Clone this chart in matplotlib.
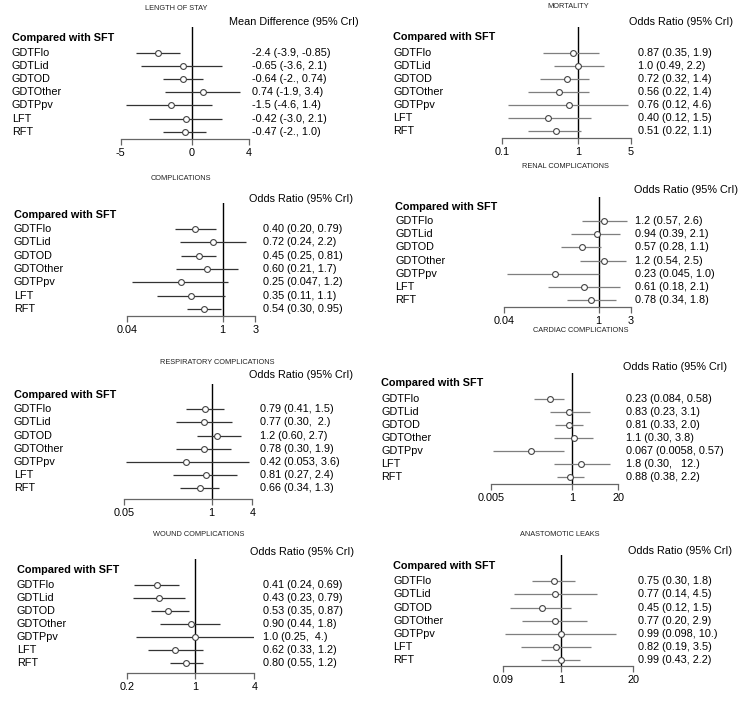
import matplotlib
matplotlib.use("Agg")
import matplotlib.pyplot as plt
import numpy as np

plt.rcParams['font.family'] = ['Liberation Sans', 'DejaVu Sans']

# ---------------- data ----------------
treatments = ["GDTFlo", "GDTLid", "GDTOD", "GDTOther", "GDTPpv", "LFT", "RFT"]

los_est = [-2.4, -0.65, -0.64, 0.74, -1.5, -0.42, -0.47]
los_lo = [-3.9, -3.6, -2.0, -1.9, -4.6, -3.0, -2.0]
los_hi = [-0.85, 2.1, 0.74, 3.4, 1.4, 2.1, 1.0]
los_txt = ["-2.4 (-3.9, -0.85)", "-0.65 (-3.6, 2.1)", "-0.64 (-2., 0.74)", "0.74 (-1.9, 3.4)",
           "-1.5 (-4.6, 1.4)", "-0.42 (-3.0, 2.1)", "-0.47 (-2., 1.0)"]
los_ticks = [-5, 0, 4]
los_ticklabels = ["-5", "0", "4"]

mort_est = [0.87, 1.0, 0.72, 0.56, 0.76, 0.40, 0.51]
mort_lo = [0.35, 0.49, 0.32, 0.22, 0.12, 0.12, 0.22]
mort_hi = [1.9, 2.2, 1.4, 1.4, 4.6, 1.5, 1.1]
mort_txt = ["0.87 (0.35, 1.9)", "1.0 (0.49, 2.2)", "0.72 (0.32, 1.4)", "0.56 (0.22, 1.4)",
            "0.76 (0.12, 4.6)", "0.40 (0.12, 1.5)", "0.51 (0.22, 1.1)"]
mort_ticks = [0.1, 1, 5]
mort_ticklabels = ["0.1", "1", "5"]

comp_est = [0.40, 0.72, 0.45, 0.60, 0.25, 0.35, 0.54]
comp_lo = [0.20, 0.24, 0.25, 0.21, 0.047, 0.11, 0.30]
comp_hi = [0.79, 2.2, 0.81, 1.7, 1.2, 1.1, 0.95]
comp_txt = ["0.40 (0.20, 0.79)", "0.72 (0.24, 2.2)", "0.45 (0.25, 0.81)", "0.60 (0.21, 1.7)",
            "0.25 (0.047, 1.2)", "0.35 (0.11, 1.1)", "0.54 (0.30, 0.95)"]
comp_ticks = [0.04, 1, 3]
comp_ticklabels = ["0.04", "1", "3"]

renal_est = [1.2, 0.94, 0.57, 1.2, 0.23, 0.61, 0.78]
renal_lo = [0.57, 0.39, 0.28, 0.54, 0.045, 0.18, 0.34]
renal_hi = [2.6, 2.1, 1.1, 2.5, 1.0, 2.1, 1.8]
renal_txt = ["1.2 (0.57, 2.6)", "0.94 (0.39, 2.1)", "0.57 (0.28, 1.1)", "1.2 (0.54, 2.5)",
             "0.23 (0.045, 1.0)", "0.61 (0.18, 2.1)", "0.78 (0.34, 1.8)"]
renal_ticks = [0.04, 1, 3]
renal_ticklabels = ["0.04", "1", "3"]

resp_est = [0.79, 0.77, 1.2, 0.78, 0.42, 0.81, 0.66]
resp_lo = [0.41, 0.30, 0.60, 0.30, 0.053, 0.27, 0.34]
resp_hi = [1.5, 2.0, 2.7, 1.9, 3.6, 2.4, 1.3]
resp_txt = ["0.79 (0.41, 1.5)", "0.77 (0.30,  2.)", "1.2 (0.60, 2.7)", "0.78 (0.30, 1.9)",
            "0.42 (0.053, 3.6)", "0.81 (0.27, 2.4)", "0.66 (0.34, 1.3)"]
resp_ticks = [0.05, 1, 4]
resp_ticklabels = ["0.05", "1", "4"]

card_est = [0.23, 0.83, 0.81, 1.1, 0.067, 1.8, 0.88]
card_lo = [0.084, 0.23, 0.33, 0.30, 0.0058, 0.30, 0.38]
card_hi = [0.58, 3.1, 2.0, 3.8, 0.57, 12.0, 2.2]
card_txt = ["0.23 (0.084, 0.58)", "0.83 (0.23, 3.1)", "0.81 (0.33, 2.0)", "1.1 (0.30, 3.8)",
            "0.067 (0.0058, 0.57)", "1.8 (0.30,   12.)", "0.88 (0.38, 2.2)"]
card_ticks = [0.005, 1, 20]
card_ticklabels = ["0.005", "1", "20"]

wound_est = [0.41, 0.43, 0.53, 0.90, 1.0, 0.62, 0.80]
wound_lo = [0.24, 0.23, 0.35, 0.44, 0.25, 0.33, 0.55]
wound_hi = [0.69, 0.79, 0.87, 1.8, 4.0, 1.2, 1.2]
wound_txt = ["0.41 (0.24, 0.69)", "0.43 (0.23, 0.79)", "0.53 (0.35, 0.87)", "0.90 (0.44, 1.8)",
             "1.0 (0.25,  4.)", "0.62 (0.33, 1.2)", "0.80 (0.55, 1.2)"]
wound_ticks = [0.2, 1, 4]
wound_ticklabels = ["0.2", "1", "4"]

anas_est = [0.75, 0.77, 0.45, 0.77, 0.99, 0.82, 0.99]
anas_lo = [0.30, 0.14, 0.12, 0.20, 0.098, 0.19, 0.43]
anas_hi = [1.8, 4.5, 1.5, 2.9, 10.0, 3.5, 2.2]
anas_txt = ["0.75 (0.30, 1.8)", "0.77 (0.14, 4.5)", "0.45 (0.12, 1.5)", "0.77 (0.20, 2.9)",
            "0.99 (0.098, 10.)", "0.82 (0.19, 3.5)", "0.99 (0.43, 2.2)"]
anas_ticks = [0.09, 1, 20]
anas_ticklabels = ["0.09", "1", "20"]

titles = ["LENGTH OF STAY", "MORTALITY", "COMPLICATIONS", "RENAL COMPLICATIONS",
          "RESPIRATORY COMPLICATIONS", "CARDIAC COMPLICATIONS", "WOUND COMPLICATIONS",
          "ANASTOMOTIC LEAKS"]
headers = ["Mean Difference (95% CrI)"] + ["Odds Ratio (95% CrI)"] * 7

# ---------------- layout (pixels) ----------------
W, H = 750, 706
layouts = [
    # title(x,y), header(xright,y), compared(x,y), label_x, row_first, row_last, zero_top, axis_y, est_x, log, color
    dict(t=(176, 9), h=(359, 21.7), c=(12, 37.7), lx=12, r0=52.7, r1=131.7, top=27, ay=139, ex=252, log=False, col="#333333"),
    dict(t=(568, 6), h=(733, 21.7), c=(393, 37.3), lx=393, r0=52.7, r1=131.3, top=27, ay=138, ex=638, log=True, col="#7f7f7f"),
    dict(t=(181, 179), h=(353, 199.3), c=(14, 215), lx=14, r0=228.7, r1=309.3, top=202.7, ay=316, ex=263, log=True, col="#333333"),
    dict(t=(565, 167), h=(738, 190), c=(395, 207), lx=395, r0=221, r1=300, top=196.7, ay=306.7, ex=635, log=True, col="#7f7f7f"),
    dict(t=(217, 363), h=(353, 375.3), c=(14, 394.7), lx=14, r0=409.3, r1=488, top=383.7, ay=498.7, ex=260, log=True, col="#333333"),
    dict(t=(581, 331), h=(727, 367), c=(381, 383), lx=381, r0=398.7, r1=477.3, top=372.7, ay=483.7, ex=626, log=True, col="#7f7f7f"),
    dict(t=(199, 534), h=(354, 552.3), c=(16.7, 569.7), lx=16.7, r0=585.3, r1=663.3, top=558.7, ay=673, ex=263, log=True, col="#333333"),
    dict(t=(560, 534), h=(732, 550.7), c=(393, 566.3), lx=393, r0=581.3, r1=660, top=555.3, ay=666, ex=638, log=True, col="#7f7f7f"),
]
axis_px = [(120.7, 249), (502, 631), (127, 255.3), (503.7, 631), (124, 252.3), (490.7, 618.3), (126.7, 254.3), (503, 633)]

panels = [
    (los_est, los_lo, los_hi, los_txt, los_ticks, los_ticklabels),
    (mort_est, mort_lo, mort_hi, mort_txt, mort_ticks, mort_ticklabels),
    (comp_est, comp_lo, comp_hi, comp_txt, comp_ticks, comp_ticklabels),
    (renal_est, renal_lo, renal_hi, renal_txt, renal_ticks, renal_ticklabels),
    (resp_est, resp_lo, resp_hi, resp_txt, resp_ticks, resp_ticklabels),
    (card_est, card_lo, card_hi, card_txt, card_ticks, card_ticklabels),
    (wound_est, wound_lo, wound_hi, wound_txt, wound_ticks, wound_ticklabels),
    (anas_est, anas_lo, anas_hi, anas_txt, anas_ticks, anas_ticklabels),
]

FS = 7.8
fig = plt.figure(figsize=(W / 100, H / 100), dpi=100)
over = fig.add_axes([0, 0, 1, 1])
over.set_xlim(0, W)
over.set_ylim(H, 0)
over.axis("off")

for i, (est, lo, hi, txt, ticks, ticklabels) in enumerate(panels):
    L = layouts[i]
    x0, x1 = axis_px[i]
    rows = np.linspace(L["r0"], L["r1"], len(treatments))

    # texts
    over.text(L["t"][0], L["t"][1], titles[i], ha="center", va="center", fontsize=5.3, color="#222222")
    over.text(L["h"][0], L["h"][1], headers[i], ha="right", va="center", fontsize=FS, color="black")
    over.text(L["c"][0], L["c"][1], "Compared with SFT", ha="left", va="center", fontsize=FS,
              fontweight="bold", color="black")
    for name, y, s in zip(treatments, rows, txt):
        over.text(L["lx"], y, name, ha="left", va="center", fontsize=FS, color="black")
        over.text(L["ex"], y, s, ha="left", va="center", fontsize=FS, color="black")

    # forest axes
    ax = fig.add_axes([x0 / W, 1 - L["ay"] / H, (x1 - x0) / W, (L["ay"] - L["top"]) / H])
    ax.set_facecolor("none")
    if L["log"]:
        ax.set_xscale("log")
    ax.set_xlim(ticks[0], ticks[-1])
    ax.set_ylim(L["ay"], L["top"])
    ref = 1 if L["log"] else 0
    ax.axvline(ref, color="black", lw=1.0, zorder=1)
    ax.hlines(rows, lo, hi, color=L["col"], lw=0.9, zorder=2)
    ax.plot(est, rows, "o", ms=4.2, mfc="white", mec="#444444", mew=0.8, zorder=3, linestyle="none")

    for s in ["left", "right", "top"]:
        ax.spines[s].set_visible(False)
    ax.spines["bottom"].set_color("#666666")
    ax.spines["bottom"].set_linewidth(0.9)
    ax.set_yticks([])
    ax.set_xticks(ticks)
    ax.set_xticklabels(ticklabels)
    ax.xaxis.set_minor_locator(matplotlib.ticker.NullLocator())
    ax.tick_params(axis="x", direction="out", length=4, width=0.9, color="#666666",
                   labelsize=FS, pad=2.5)

fig.savefig("out.png", dpi=100)
